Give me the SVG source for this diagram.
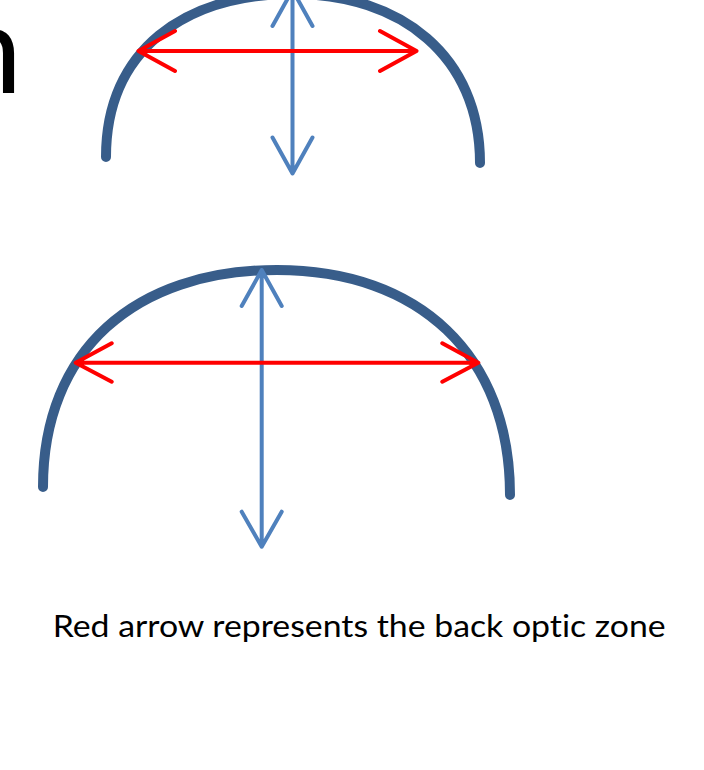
<svg xmlns="http://www.w3.org/2000/svg" width="704" height="770" viewBox="0 0 704 770">
<style>
.arc{fill:none;stroke:#385D8A;stroke-width:10;stroke-linecap:round}
.blue{fill:none;stroke:#4F81BD;stroke-width:4;stroke-linecap:round;stroke-linejoin:round}
.red{fill:none;stroke:#FF0000;stroke-width:4;stroke-linecap:round;stroke-linejoin:round}
.cap{font-family:Lato,"Liberation Sans",Arial,sans-serif;fill:#000;font-variant-ligatures:none;font-feature-settings:"liga" 0,"dlig" 0}
</style>
<rect width="704" height="770" fill="#fff"/>
<text class="cap" x="-47" y="93" font-size="124">n</text>
<g id="lens-top">
<path class="arc" d="M106 157 C106 50 185 -6 293 -6 C401 -6 480 56 480 163"/>
</g>
<g id="lens-bottom">
<path class="arc" d="M43 487 C43 350 135 270 277 270 C419 270 510 355 510 495"/>
</g>
<g id="connectors">
<path class="blue" d="M292.5 -10 V173.5 M272.5 137.5 L292.5 173.5 L312.5 137.5 M272.5 26 L292.5 -10 L312.5 26"/>
<path class="red" d="M138.5 51 H416.5 M175 31 L138.5 51 L175 71 M380 31 L416.5 51 L380 71"/>
<path class="blue" d="M261.7 270 V546.7 M241.7 511.7 L261.7 546.7 L281.7 511.7 M241.7 306 L261.7 270 L281.7 306"/>
<path class="red" d="M75.7 362.7 H478.3 M111.7 343.3 L75.7 362.7 L111.7 381.7 M442.3 343.3 L478.3 362.7 L442.3 381.7"/>
</g>
<text class="cap" x="52.7" y="637.3" font-size="31" textLength="613" lengthAdjust="spacingAndGlyphs">Red arrow represents the back optic zone</text>
</svg>
